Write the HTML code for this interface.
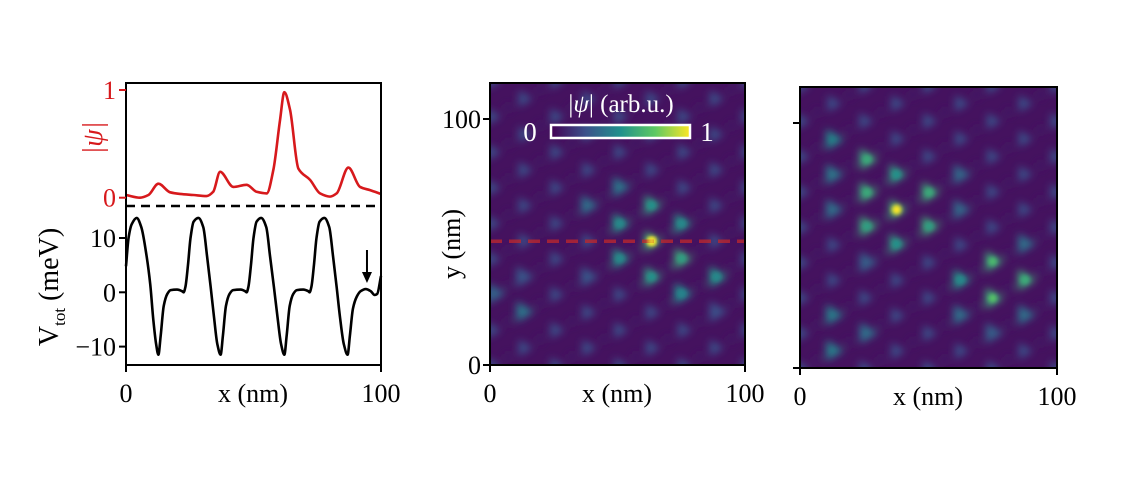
<!DOCTYPE html>
<html><head><meta charset="utf-8">
<style>
html,body{margin:0;padding:0;background:#fff;}
svg{display:block;font-family:"Liberation Serif",serif;}
</style></head>
<body>
<svg id="fig" width="1132" height="481" viewBox="0 0 1132 481" xmlns="http://www.w3.org/2000/svg">
<defs>
<filter id="blur" x="-20%" y="-20%" width="140%" height="140%"><feGaussianBlur stdDeviation="3.9"/></filter>
<filter id="blur2" x="-20%" y="-20%" width="140%" height="140%"><feGaussianBlur stdDeviation="2.2"/></filter>
<clipPath id="clipM"><rect x="490" y="83" width="255" height="282"/></clipPath>
<clipPath id="clipR"><rect x="800" y="87" width="257" height="281"/></clipPath>
<linearGradient id="viridis" x1="0" x2="1" y1="0" y2="0">
<stop offset="0" stop-color="#440154"/><stop offset="0.25" stop-color="#3b528b"/><stop offset="0.5" stop-color="#21918c"/><stop offset="0.75" stop-color="#5ec962"/><stop offset="1" stop-color="#fde725"/>
</linearGradient>
</defs>
<g id="left"></g>
<g id="mid"></g>
<g id="right"></g>
</svg>
<script>
// ---- line profile data ----
const psiX = [0,5.5,8.8,12.7,17.3,21.2,26.4,31.6,34.2,36.9,42.1,47.3,51.2,55.2,57.8,60.4,62.1,64.3,67.6,72.2,76.1,80,82.6,87.2,91.8,95.7,100];
const psiV = [0.025,0,0.025,0.13,0.05,0.035,0.025,0.015,0.055,0.24,0.1,0.12,0.055,0.04,0.26,0.72,0.98,0.82,0.27,0.165,0.04,0.01,0.04,0.28,0.1,0.07,0.035];
const vX = [0,1,2.2,4.2,6,8.1,9.5,10.7,11.8,12.7,13.6,14.8,16.2,17.5,20,22,22.6,23.3,24.3,25.3,26.5,28.4,30.3,31.8,33.2,34.5,35.8,37.1,38,39.2,40.6,42,45,46.7,47.3,48,49,50,51.2,53,55,56.5,58,59.4,60.8,62.1,63,64.2,65.6,67,69.5,71.5,72,72.7,73.7,74.7,75.9,77.8,79.7,81.2,82.6,83.9,85.4,86.9,87.8,89,90.5,92,94,96,97.5,98.5,100];
const vV = [4.8,10,12.5,13.7,12,6.6,1.5,-5,-9.5,-11.5,-8,-2.5,-0.3,0.4,0.5,0.2,0,1,5,10,13,13.7,12,6.6,1,-4.5,-9.5,-11.5,-8,-2.5,-0.3,0.4,0.5,0.2,0,1,5,10,13,13.7,12,6.6,1,-4.5,-9.5,-11.5,-8,-2.5,-0.3,0.4,0.5,0.2,0,1,5,10,13,13.7,12,6.6,1,-4.5,-9.5,-11.5,-8,-3,-0.8,0.2,0.6,0.2,-0.5,-0.3,3];
const xTicks = ["0","100"];
const psiTicks = [0,1];
const vTicks = [10,0,-10];
// ---- heatmap data: bright spots [x nm], [y nm], [value] ----
const midSpotX = [63.4,63.4,51,75.2,51,75.2,63.4,75.2,88.9,51,38.5,13.1,2,13.1,38.5,88.9];
const midSpotY = [50.4,65,57.6,57.6,43.4,43.4,35.9,29.1,35.9,72.5,65,21.7,29.1,35.9,35.9,21.7];
const midSpotV = [1.0,0.45,0.42,0.42,0.42,0.5,0.45,0.4,0.42,0.32,0.3,0.32,0.26,0.22,0.22,0.2];
const rightSpotX = [37.6,26.2,37.6,26.2,50.3,26.2,50.3,37.6,12.9,12.9,12.9,62.5,62.5,75,75,87.6,62.5,62.5,87.6,87.6,75,12.9,26.2,12.9,26.2];
const rightSpotY = [64.5,85,78.8,71.5,71.5,57.7,57.7,50.5,93,78.8,64.5,78.8,64.5,43.4,28.4,35.9,35.9,21.6,50.5,21.6,14.2,21.6,14.2,7.1,43];
const rightSpotV = [1.0,0.55,0.45,0.55,0.55,0.5,0.5,0.45,0.38,0.33,0.3,0.28,0.28,0.62,0.66,0.56,0.42,0.3,0.3,0.3,0.25,0.35,0.3,0.35,0.25];
const yTicksMid = ["0","100"];

const NS="http://www.w3.org/2000/svg";
function mk(tag, attrs, parent){const e=document.createElementNS(NS,tag);for(const k in attrs)e.setAttribute(k,attrs[k]);parent.appendChild(e);return e;}
function viridis(t){const s=[[68,1,84],[59,82,139],[33,145,140],[94,201,98],[253,231,37]];t=Math.max(0,Math.min(1,t))*4;const i=Math.min(3,Math.floor(t)),f=t-i;const c=s[i].map((v,k)=>Math.round(v+(s[i+1][k]-v)*f));return `rgb(${c[0]},${c[1]},${c[2]})`;}
function mono(pts){const n=pts.length,dx=[],m=[],t=[];
 for(let i=0;i<n-1;i++){dx[i]=pts[i+1][0]-pts[i][0];m[i]=(pts[i+1][1]-pts[i][1])/dx[i];}
 t[0]=m[0];t[n-1]=m[n-2];
 for(let i=1;i<n-1;i++){if(m[i-1]*m[i]<=0)t[i]=0;else{const w1=2*dx[i]+dx[i-1],w2=dx[i]+2*dx[i-1];t[i]=(w1+w2)/(w1/m[i-1]+w2/m[i]);}}
 let d=`M${pts[0][0].toFixed(2)},${pts[0][1].toFixed(2)}`;
 for(let i=0;i<n-1;i++){const h=dx[i]/3;d+=`C${(pts[i][0]+h).toFixed(2)},${(pts[i][1]+t[i]*h).toFixed(2)} ${(pts[i+1][0]-h).toFixed(2)},${(pts[i+1][1]-t[i+1]*h).toFixed(2)} ${pts[i+1][0].toFixed(2)},${pts[i+1][1].toFixed(2)}`;}
 return d;}

// ---- left panel ----
const L=document.getElementById('left');
const lx=v=>126+v*2.55;
const py=v=>197.7-v*107.7;
const vy=v=>292.3-v*5.43;
let e;
e=mk('path',{d:mono(psiX.map((x,i)=>[lx(x),py(psiV[i])])),fill:'none',stroke:'#d7191c','stroke-width':2.6},L);


e=mk('path',{d:mono(vX.map((x,i)=>[lx(x),vy(vV[i])])),fill:'none',stroke:'#000','stroke-width':2.6,'stroke-linejoin':'round'},L);


e=mk('line',{x1:126,x2:381,y1:206,y2:206,stroke:'#000','stroke-width':2.4,'stroke-dasharray':'9,6'},L);


e=mk('rect',{x:126,y:83,width:255,height:282,fill:'none',stroke:'#000','stroke-width':2},L);


psiTicks.forEach(t=>{mk('line',{x1:119,x2:126,y1:py(t),y2:py(t),stroke:'#d7191c','stroke-width':2},L);
 e=mk('text',{x:116,y:py(t)+9,'text-anchor':'end','font-size':26,fill:'#d7191c'},L);e.textContent=String(t);
 
 });
vTicks.forEach(t=>{mk('line',{x1:119,x2:126,y1:vy(t),y2:vy(t),stroke:'#000','stroke-width':2},L);
 e=mk('text',{x:116,y:vy(t)+9,'text-anchor':'end','font-size':26,fill:'#000'},L);e.textContent=t<0?'\u2212'+(-t):String(t);
 
 });
[0,100].forEach((t,i)=>{mk('line',{x1:lx(t),x2:lx(t),y1:365,y2:372,stroke:'#000','stroke-width':2},L);
 e=mk('text',{x:lx(t),y:402,'text-anchor':'middle','font-size':26},L);e.textContent=xTicks[i];
 
 });
e=mk('text',{x:253,y:402,'text-anchor':'middle','font-size':26},L);e.textContent='x (nm)';


e=mk('text',{transform:'translate(102,138) rotate(-90)','text-anchor':'middle','font-size':28,fill:'#d7191c','font-style':'italic'},L);e.textContent='|ψ|';


e=mk('text',{transform:'translate(58,287) rotate(-90)','text-anchor':'middle','font-size':28},L);
e.innerHTML='V<tspan font-size="17" dy="7">tot</tspan><tspan dy="-7"> (meV)</tspan>';


e=mk('g',{},L);


mk('line',{x1:lx(94.5),x2:lx(94.5),y1:250,y2:276,stroke:'#000','stroke-width':2},e);
mk('path',{d:`M${lx(94.5)-5},272 L${lx(94.5)+5},272 L${lx(94.5)},283 Z`,fill:'#000'},e);

// ---- heatmaps ----
function heatmap(g,x0,y0,w,h,clip,lat,sx,sy,sv,name){
 const X=v=>x0+v*w/100;
 const YY=v=>y0+h-v*2.455;
 e=mk('rect',{x:x0,y:y0,width:w,height:h,fill:'#45125f'},g);
 
 
 const spots=mk('g',{'clip-path':`url(#${clip})`,filter:'url(#blur)'},g);
 const tri=(cx,cy,r)=>`M${cx+r*1.1},${cy} L${cx-r*0.7},${cy-r*1.05} L${cx-r*0.7},${cy+r*1.05} Z`;
 for(let k=-1;k<10;k++){const xv=lat.x0+lat.dx*k;const off=((k-lat.kc)%2!==0)?lat.dy/2:0;
  for(let j=-6;j<10;j++){const yv=lat.yc+lat.dy*j+off;
   mk('path',{d:tri(X(xv),YY(yv),8),fill:viridis(0.24)},spots);
   mk('circle',{cx:X(xv+lat.dx/2),cy:YY(yv+lat.dy/4),r:4,fill:viridis(0.08)},spots);}}
 sx.forEach((xv,i)=>{
  const c=mk('path',{d:tri(X(xv),YY(sy[i]),10),fill:viridis(Math.min(0.62,sv[i]*1.25))},spots);
  
  
 });
 const cores=mk('g',{'clip-path':`url(#${clip})`,filter:'url(#blur2)'},g);
 sx.forEach((xv,i)=>{if(sv[i]>=0.4){mk('circle',{cx:X(xv),cy:YY(sy[i]),r:sv[i]>0.9?5:4,fill:viridis(sv[i]*1.1)},cores);}});
 return {X,YY};
}
const M=document.getElementById('mid');
const mAx=heatmap(M,490,83,255,282,'clipM',{x0:0.9,dx:12.5,kc:5,yc:50.4,dy:14.5},midSpotX,midSpotY,midSpotV,'middle-heatmap');
e=mk('line',{x1:490,x2:745,y1:mAx.YY(50.4),y2:mAx.YY(50.4),stroke:'#c0282c','stroke-width':3.5,'stroke-dasharray':'12,7',opacity:0.75},M);


mk('circle',{cx:mAx.X(63.4),cy:mAx.YY(50.4),r:3.5,fill:'#f2e533',filter:'url(#blur2)'},M);
e=mk('rect',{x:490,y:83,width:255,height:282,fill:'none',stroke:'#000','stroke-width':2},M);


[0,100].forEach((t,i)=>{const y=365-t*2.46;mk('line',{x1:483,x2:490,y1:y,y2:y,stroke:'#000','stroke-width':2},M);
 e=mk('text',{x:481,y:y+9,'text-anchor':'end','font-size':26},M);e.textContent=yTicksMid[i];
 
 
 const x=490+t*2.55;mk('line',{x1:x,x2:x,y1:365,y2:372,stroke:'#000','stroke-width':2},M);
 e=mk('text',{x:x,y:402,'text-anchor':'middle','font-size':26},M);e.textContent=xTicks[i];
 
 });
e=mk('text',{x:617,y:402,'text-anchor':'middle','font-size':26},M);e.textContent='x (nm)';


e=mk('text',{transform:'translate(460,244) rotate(-90)','text-anchor':'middle','font-size':26},M);e.textContent='y (nm)';


e=mk('rect',{x:551,y:125,width:139,height:13,fill:'url(#viridis)',stroke:'#fff','stroke-width':2.5},M);


e=mk('text',{x:621,y:112,'text-anchor':'middle','font-size':25,fill:'#fff'},M);e.innerHTML='|<tspan font-style="italic">ψ</tspan>| (arb.u.)';


e=mk('text',{x:530,y:141,'text-anchor':'middle','font-size':27,fill:'#fff'},M);e.textContent='0';


e=mk('text',{x:707,y:141,'text-anchor':'middle','font-size':27,fill:'#fff'},M);e.textContent='1';



const R=document.getElementById('right');
heatmap(R,800,87,257,281,'clipR',{x0:0.5,dx:12.4,kc:1,yc:64.5,dy:14.4},rightSpotX,rightSpotY,rightSpotV,'right-heatmap');
e=mk('rect',{x:800,y:87,width:257,height:281,fill:'none',stroke:'#000','stroke-width':2},R);


[0,100].forEach((t,i)=>{const y=368-t*2.45;mk('line',{x1:793,x2:800,y1:y,y2:y,stroke:'#000','stroke-width':2},R);
 const x=800+t*2.57;mk('line',{x1:x,x2:x,y1:368,y2:375,stroke:'#000','stroke-width':2},R);
 e=mk('text',{x:x,y:405,'text-anchor':'middle','font-size':26},R);e.textContent=xTicks[i];
 
 });
e=mk('text',{x:928,y:405,'text-anchor':'middle','font-size':26},R);e.textContent='x (nm)';


</script>
</body></html>
